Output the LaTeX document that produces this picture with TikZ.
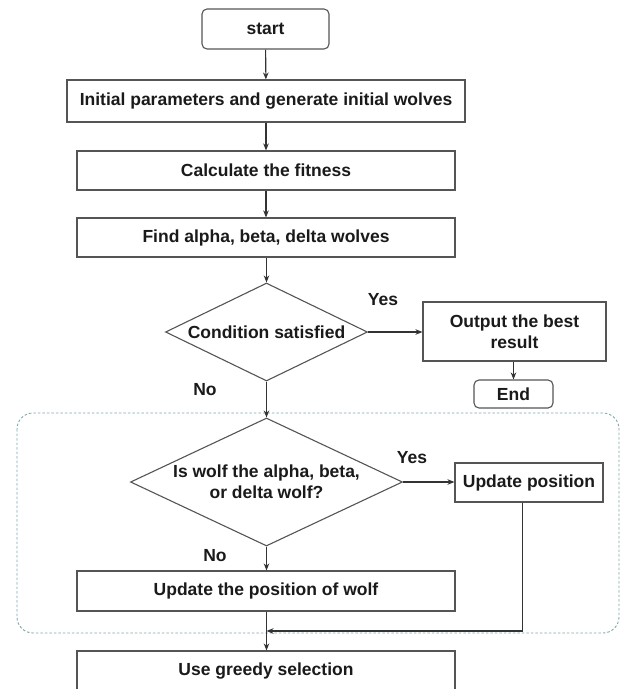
\documentclass[tikz,border=0pt]{standalone}
\usepackage{fontspec}
\setmainfont{Liberation Sans}
\usetikzlibrary{shapes.geometric,arrows.meta}
\definecolor{edgegray}{HTML}{555555}
\definecolor{linegray}{HTML}{333333}
\definecolor{dotteal}{HTML}{7FA9AE}
\definecolor{txt}{HTML}{1A1A1A}
\tikzset{
  base/.style={draw=edgegray, line width=1.1pt, text=txt, inner sep=0pt, align=center,
    font=\fontsize{17.5}{21}\selectfont\bfseries},
  procbox/.style={base, rectangle},
  termbox/.style={base, rectangle, rounded corners=5pt},
  decbox/.style={base, diamond},
  lbl/.style={text=txt, inner sep=0pt, font=\fontsize{17.5}{21}\selectfont\bfseries},
  conn/.style={draw=linegray, line width=1.1pt, -{Stealth[length=7pt,width=5.5pt]}},
  plainconn/.style={draw=linegray, line width=1.1pt},
  groupbox/.style={draw=dotteal, line width=0.9pt, dash pattern=on 2.5pt off 2pt, rounded corners=16pt}
}
\begin{document}
\begin{tikzpicture}[x=1pt,y=-1pt]
\clip (0,0) rectangle (620,689);
\fill[white] (0,0) rectangle (620,689);

% dotted group
\draw[groupbox] (17,413) rectangle (619,633);

% nodes
\node[termbox, minimum width=127pt, minimum height=40pt] (start) at (265.5,29) {start};
\node[procbox, minimum width=398pt, minimum height=42pt] (init) at (266,101) {Initial parameters and generate initial wolves};
\node[procbox, minimum width=378pt, minimum height=39pt] (calc) at (266,170.5) {Calculate the fitness};
\node[procbox, minimum width=378pt, minimum height=39pt] (find) at (266,237.5) {Find alpha, beta, delta wolves};
\node[decbox, aspect=2.06, minimum width=202pt, minimum height=98pt] (cond) at (266.5,332) {Condition satisfied};
\node[procbox, minimum width=183pt, minimum height=59pt] (out) at (514.5,331.5) {Output the best\\result};
\node[termbox, minimum width=79pt, minimum height=28pt] (end) at (513.5,394) {End};
\node[decbox, aspect=2.125, minimum width=272pt, minimum height=128pt] (isw) at (266.5,482) {Is wolf the alpha, beta,\\or delta wolf?};
\node[procbox, minimum width=148pt, minimum height=39pt] (upd) at (529,482.5) {Update position};
\node[procbox, minimum width=378pt, minimum height=40pt] (wolf) at (266,591) {Update the position of wolf};
\node[procbox, minimum width=378pt, minimum height=40pt] (greedy) at (266,671) {Use greedy selection};

% labels
\node[lbl] (yes1) at (383,300) {Yes};
\node[lbl] (no1) at (205,390) {No};
\node[lbl] (yes2) at (412,458) {Yes};
\node[lbl] (no2) at (215,556) {No};

\coordinate (join) at (266.5,631);

% connectors
\draw[conn] (start) -- (init);
\draw[conn] (init) -- (calc);
\draw[conn] (calc) -- (find);
\draw[conn] (find.south -| cond.north) -- (cond.north);
\draw[conn] (cond.east) -- (cond.east -| out.west);
\draw[conn] (out.south -| end.north) -- (end.north);
\draw[conn] (cond.south) -- (isw.north);
\draw[conn] (isw.east) -- (isw.east -| upd.west);
\draw[conn] (isw.south) -- (isw.south |- wolf.north);
\draw[plainconn] (wolf.south -| join) -- (join);
\draw[conn] (join) -- (join |- greedy.north);
\draw[conn] ([xshift=-6.5pt]upd.south) |- (join);
\end{tikzpicture}
\end{document}
